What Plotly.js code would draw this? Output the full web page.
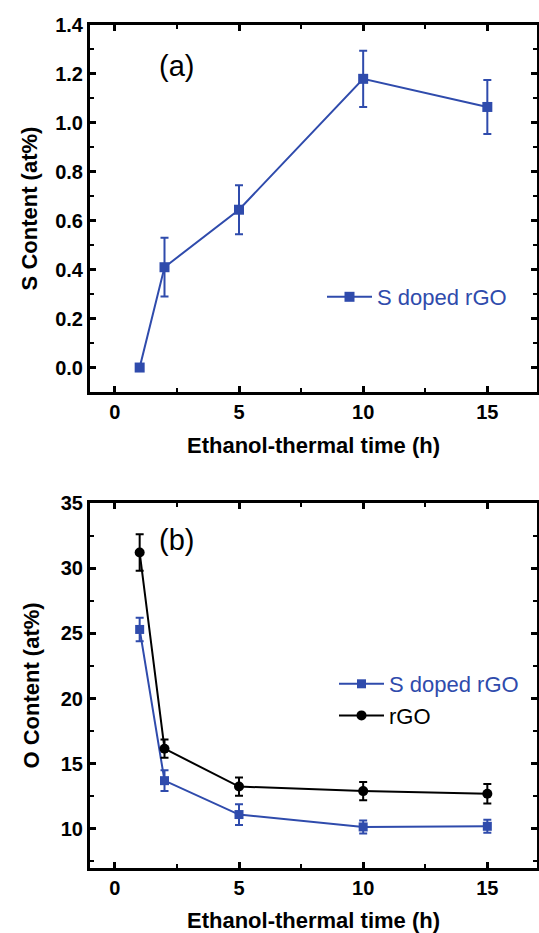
<!DOCTYPE html>
<html>
<head>
<meta charset="utf-8">
<script src="https://cdn.plot.ly/plotly-3.0.1.min.js"></script>
<style>html,body{margin:0;padding:0;background:#fff;}#chart{width:539px;height:933px;}</style>
</head>
<body>
<div id="chart"></div>
<script>
// ---- data ----
var timeHours = [1, 2, 5, 10, 15];
var sContentSdoped = [0, 0.41, 0.645, 1.18, 1.065];
var sContentSdopedErr = [0, 0.12, 0.10, 0.115, 0.11];
var oContentSdoped = [25.3, 13.7, 11.1, 10.15, 10.2];
var oContentSdopedErr = [0.9, 0.8, 0.8, 0.5, 0.5];
var oContentRGO = [31.2, 16.15, 13.25, 12.9, 12.7];
var oContentRGOErr = [1.4, 0.7, 0.7, 0.7, 0.75];
var seriesNames = ['S doped rGO', 'rGO'];
var xTitle = 'Ethanol-thermal time (h)';
var yTitleTop = 'S Content (at%)';
var yTitleBottom = 'O Content (at%)';
var panelLabels = ['(a)', '(b)'];

var BLUE = '#2f4bac';
var FONT = 'Liberation Sans, Arial, sans-serif';

var traces = [
  {
    x: timeHours, y: sContentSdoped, xaxis: 'x', yaxis: 'y',
    type: 'scatter', mode: 'lines+markers',
    name: '<span style="color:' + BLUE + '">' + seriesNames[0] + '</span>',
    line: {color: BLUE, width: 2},
    marker: {symbol: 'square', size: 10, color: BLUE},
    error_y: {type: 'data', array: sContentSdopedErr, visible: true, color: BLUE, thickness: 2, width: 4},
    legend: 'legend'
  },
  {
    x: timeHours, y: oContentSdoped, xaxis: 'x2', yaxis: 'y2',
    type: 'scatter', mode: 'lines+markers',
    name: '<span style="color:' + BLUE + '">' + seriesNames[0] + '</span>',
    line: {color: BLUE, width: 2},
    marker: {symbol: 'square', size: 9, color: BLUE},
    error_y: {type: 'data', array: oContentSdopedErr, visible: true, color: BLUE, thickness: 2, width: 4},
    legend: 'legend2'
  },
  {
    x: timeHours, y: oContentRGO, xaxis: 'x2', yaxis: 'y2',
    type: 'scatter', mode: 'lines+markers',
    name: seriesNames[1],
    line: {color: '#000', width: 2},
    marker: {symbol: 'circle', size: 10, color: '#000'},
    error_y: {type: 'data', array: oContentRGOErr, visible: true, color: '#000', thickness: 2, width: 4},
    legend: 'legend2'
  }
];

function xAxis(anchor) {
  return {
    domain: [90/539, 537/539], anchor: anchor, range: [-1, 17],
    tickmode: 'array', tickvals: [0, 5, 10, 15], ticktext: ['0', '5', '10', '15'],
    ticks: 'inside', ticklen: 6, tickwidth: 3, tickcolor: '#000',
    minor: {dtick: 2.5, tick0: 0, ticks: 'inside', ticklen: 4, tickwidth: 2, tickcolor: '#000'},
    showline: true, linewidth: 3, linecolor: '#000', mirror: 'ticks',
    showgrid: false, zeroline: false,
    tickfont: {family: FONT, size: 20, weight: 'bold', color: '#000'},
    title: {text: xTitle, font: {family: FONT, size: 22, weight: 'bold', color: '#000'}, standoff: 16}
  };
}

function yAxisCommon(o) {
  var base = {
    ticks: 'inside', ticklen: 6, tickwidth: 3, tickcolor: '#000',
    showline: true, linewidth: 3, linecolor: '#000', mirror: 'ticks',
    showgrid: false, zeroline: false,
    tickfont: {family: FONT, size: 20, weight: 'bold', color: '#000'}
  };
  for (var k in o) base[k] = o[k];
  return base;
}

var layout = {
  width: 539, height: 933,
  margin: {l: 0, r: 0, t: 0, b: 0},
  paper_bgcolor: '#fff', plot_bgcolor: '#fff',
  showlegend: true,
  xaxis: xAxis('y'),
  xaxis2: xAxis('y2'),
  yaxis: yAxisCommon({
    domain: [1 - 392/933, 1 - 25/933], anchor: 'x', range: [-0.1, 1.4],
    tickmode: 'array', tickvals: [0, 0.2, 0.4, 0.6, 0.8, 1.0, 1.2, 1.4],
    ticktext: ['0.0', '0.2', '0.4', '0.6', '0.8', '1.0', '1.2', '1.4'],
    minor: {dtick: 0.1, tick0: 0, ticks: 'inside', ticklen: 4, tickwidth: 2, tickcolor: '#000'},
    title: {text: yTitleTop, font: {family: FONT, size: 22, weight: 'bold', color: '#000'}, standoff: 12}
  }),
  yaxis2: yAxisCommon({
    domain: [1 - 868/933, 1 - 503/933], anchor: 'x2', range: [7, 35],
    tickmode: 'array', tickvals: [10, 15, 20, 25, 30, 35],
    minor: {dtick: 2.5, tick0: 0, ticks: 'inside', ticklen: 4, tickwidth: 2, tickcolor: '#000'},
    title: {text: yTitleBottom, font: {family: FONT, size: 22, weight: 'bold', color: '#000'}, standoff: 16}
  }),
  legend: {
    x: 322/539, y: 1 - 297/933, xanchor: 'left', yanchor: 'middle',
    bgcolor: 'rgba(0,0,0,0)', borderwidth: 0, itemwidth: 45,
    font: {family: FONT, size: 22, color: BLUE}, tracegroupgap: 0
  },
  legend2: {
    x: 334/539, y: 1 - 700/933, xanchor: 'left', yanchor: 'middle',
    bgcolor: 'rgba(0,0,0,0)', borderwidth: 0, itemwidth: 45,
    font: {family: FONT, size: 22, color: '#000'}, tracegroupgap: 0
  },
  annotations: [
    {text: panelLabels[0], xref: 'paper', yref: 'paper', x: 176/539, y: 1 - 66/933,
     xanchor: 'center', yanchor: 'middle', showarrow: false,
     font: {family: FONT, size: 29, color: '#000'}},
    {text: panelLabels[1], xref: 'paper', yref: 'paper', x: 176/539, y: 1 - 540/933,
     xanchor: 'center', yanchor: 'middle', showarrow: false,
     font: {family: FONT, size: 29, color: '#000'}}
  ]
};

Plotly.newPlot('chart', traces, layout, {displayModeBar: false, staticPlot: true});
</script>
</body>
</html>
